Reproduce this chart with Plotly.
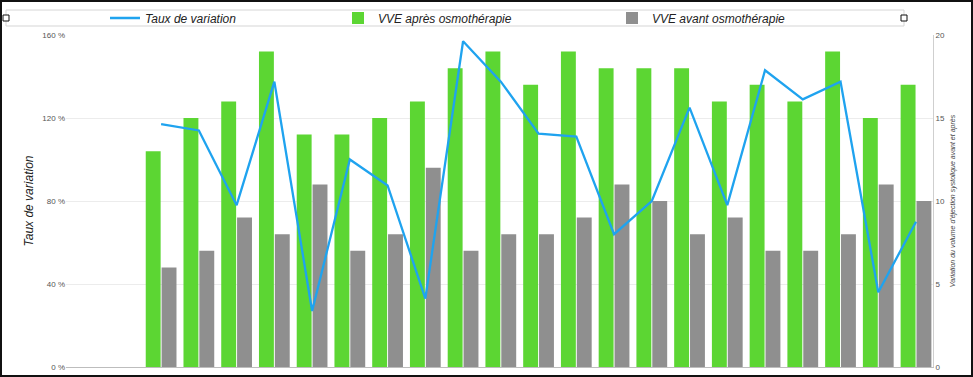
import plotly.graph_objects as go

patients = list(range(1, 22))
vve_apres = [13, 15, 16, 19, 14, 14, 15, 16, 18, 19, 17, 19, 18, 18, 18, 16, 17, 16, 19, 15, 17]
vve_avant = [6, 7, 9, 8, 11, 7, 8, 12, 7, 8, 8, 9, 11, 10, 8, 9, 7, 7, 8, 11, 10]
taux = [117, 114, 78, 137.5, 27, 100, 87.5, 33, 157, 137.5, 112.5, 111, 64, 80, 125, 78, 143, 129, 137.5, 36, 70]
taux_ticks = [0, 40, 80, 120, 160]
taux_labels = ["0 %", "40 %", "80 %", "120 %", "160 %"]
vve_ticks = [0, 5, 10, 15, 20]

W, H = 973, 377
ML, MR, MT, MB = 66, 40, 35, 10
PW, PH = W - ML - MR, H - MT - MB


def px(x):
    return (x - ML) / PW


def py(y):
    return (H - MB - y) / PH


FONT = "Liberation Sans, Arial, sans-serif"

fig = go.Figure()
fig.add_bar(x=patients, y=vve_apres, name="VVE après osmothérapie",
            marker=dict(color="#5cd633", line=dict(width=0)), yaxis="y", legend="legend2")
fig.add_bar(x=patients, y=vve_avant, name="VVE avant osmothérapie",
            marker=dict(color="#8f8f8f", line=dict(width=0)), yaxis="y", legend="legend3")
fig.add_scatter(x=patients, y=taux, name="Taux de variation", mode="lines",
                line=dict(color="#1fa3ef", width=2.3), yaxis="y2", legend="legend")

legfont = dict(family=FONT, size=12, color="#222", style="italic")
fig.update_layout(
    width=W, height=H,
    margin=dict(l=ML, r=MR, t=MT, b=MB, autoexpand=False),
    paper_bgcolor="white", plot_bgcolor="white",
    barmode="group", bargap=0.16, bargroupgap=0.06,
    showlegend=True,
    legend=dict(x=px(105), y=py(18), xanchor="left", yanchor="middle", font=legfont,
                bgcolor="rgba(0,0,0,0)", itemwidth=30),
    legend2=dict(x=px(338), y=py(18), xanchor="left", yanchor="middle", font=legfont,
                 bgcolor="rgba(0,0,0,0)"),
    legend3=dict(x=px(612), y=py(18), xanchor="left", yanchor="middle", font=legfont,
                 bgcolor="rgba(0,0,0,0)"),
    xaxis=dict(range=[-1.52, 21.45], showticklabels=False, ticks="", showgrid=False,
               showline=True, linecolor="#bdbdbd", linewidth=1, zeroline=False),
    yaxis=dict(range=[0, 20], side="right", tickvals=vve_ticks,
               tickfont=dict(family=FONT, size=8, color="#555"),
               showgrid=True, gridcolor="#ececec", gridwidth=1,
               showline=True, linecolor="#cfcfcf", linewidth=1, zeroline=False,
               ticks="", ticklen=0,
               title=dict(text="Variation du volume d'éjection systolique avant et après",
                          font=dict(family=FONT, size=7, color="#444", style="italic"),
                          standoff=6)),
    yaxis2=dict(range=[0, 160], side="left", overlaying="y", tickvals=taux_ticks,
                ticktext=taux_labels, tickfont=dict(family=FONT, size=8, color="#555"),
                showgrid=False, showline=False, zeroline=False, ticks="",
                title=dict(text="Taux de variation",
                           font=dict(family=FONT, size=12, color="#222", style="italic"),
                           standoff=6)),
    shapes=[
        dict(type="rect", xref="paper", yref="paper", x0=px(1), x1=px(972), y0=py(376), y1=py(1),
             line=dict(color="#111", width=2), fillcolor="rgba(0,0,0,0)", layer="above"),
        dict(type="rect", xref="paper", yref="paper", x0=px(6), x1=px(904), y0=py(26), y1=py(10),
             line=dict(color="#d5d5d5", width=1), fillcolor="rgba(0,0,0,0)"),
        dict(type="rect", xref="paper", yref="paper", x0=px(3), x1=px(9), y0=py(21), y1=py(15),
             line=dict(color="#111", width=1), fillcolor="white"),
        dict(type="rect", xref="paper", yref="paper", x0=px(901), x1=px(907), y0=py(21), y1=py(15),
             line=dict(color="#111", width=1), fillcolor="white"),
    ],
)

fig.write_html("out.html", config={"displayModeBar": False},
               post_script="document.body.style.margin='0';document.body.style.padding='0';")
